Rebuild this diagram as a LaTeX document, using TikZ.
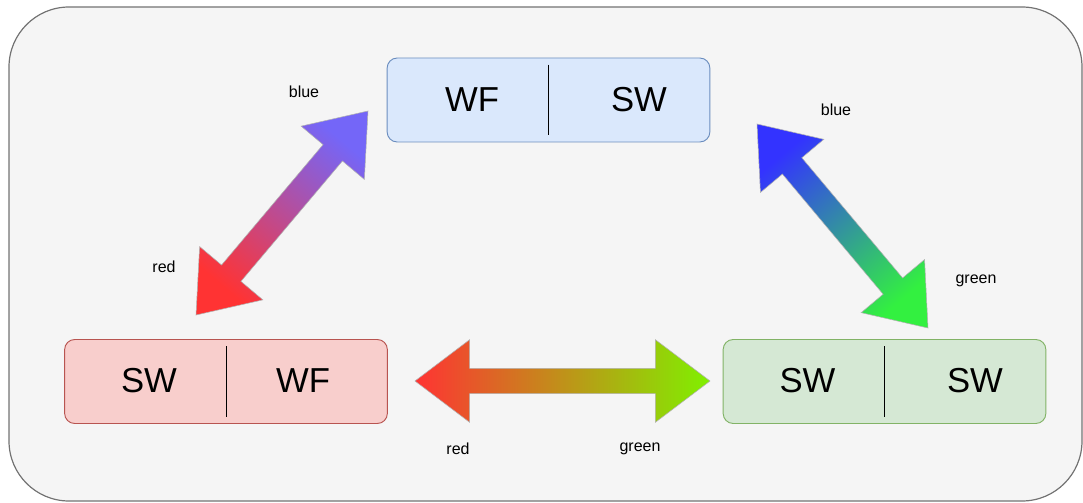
\documentclass[tikz,border=0pt]{standalone}
\usepackage{fontspec}
\setmainfont{Liberation Sans}
\usetikzlibrary{calc}

\definecolor{bluefill}{HTML}{DAE8FC}
\definecolor{blueline}{HTML}{6C8EBF}
\definecolor{redfill}{HTML}{F8CECC}
\definecolor{redline}{HTML}{B85450}
\definecolor{greenfill}{HTML}{D5E8D4}
\definecolor{greenline}{HTML}{82B366}
\definecolor{arred}{HTML}{FF3333}
\definecolor{arviolet}{HTML}{7466F8}
\definecolor{arblue}{HTML}{3333FF}
\definecolor{argreen}{HTML}{33F040}
\definecolor{arlime}{HTML}{80F000}

\tikzset{
  frame/.style={draw=black!55, fill=black!4, line width=0.9pt, rounded corners=45pt},
  halfbox/.style={rectangle, rounded corners=7.5pt, minimum width=242pt, minimum height=63pt, line width=0.7pt},
  boxtext/.style={font=\fontsize{26}{30}\selectfont},
  tag/.style={font=\fontsize{12}{14}\selectfont},
  fatarrow/.style={draw=black!30, line width=0.4pt},
}

% double headed fat arrow: from, to, from colour, to colour, shading angle
\newcommand{\dblarrow}[5]{%
  \coordinate (ha) at ($(#1)!41pt!(#2)$);
  \coordinate (hb) at ($(#2)!41pt!(#1)$);
  \draw[fatarrow, left color=#3, right color=#4, shading angle=#5]
    (#1) -- ($(ha)!31pt!90:(#1)$) -- ($(ha)!9.5pt!90:(#1)$)
    -- ($(hb)!9.5pt!-90:(#2)$) -- ($(hb)!31pt!-90:(#2)$) -- (#2)
    -- ($(hb)!31pt!90:(#2)$) -- ($(hb)!9.5pt!90:(#2)$)
    -- ($(ha)!9.5pt!-90:(#1)$) -- ($(ha)!31pt!-90:(#1)$) -- cycle;
}

\begin{document}
\begin{tikzpicture}[x=0.75pt, y=-0.75pt]
  \useasboundingbox (0,0) rectangle (1083,503);
  \draw[frame] (9,7) rectangle (1082,501);
  %
  \node[halfbox, draw=blueline, fill=bluefill] (top) at (548.5,100) {};
  \node[halfbox, draw=redline, fill=redfill] (left) at (226,381.5) {};
  \node[halfbox, draw=greenline, fill=greenfill] (right) at (884.5,381.5) {};
  \draw[line width=0.7pt] ($(top.north)+(0,7)$) -- ($(top.south)+(0,-7)$);
  \draw[line width=0.7pt] ($(left.north)+(0,7)$) -- ($(left.south)+(0,-7)$);
  \draw[line width=0.7pt] ($(right.north)+(0,7)$) -- ($(right.south)+(0,-7)$);
  \node[boxtext] (topl) at (472,100) {WF};
  \node[boxtext] (topr) at (639,100) {SW};
  \node[boxtext] (leftl) at (149,381) {SW};
  \node[boxtext] (leftr) at (303,381) {WF};
  \node[boxtext] (rightl) at (807.5,381) {SW};
  \node[boxtext] (rightr) at (975,381) {SW};
  %
  \coordinate (ldred) at (196,315);
  \coordinate (ldblue) at (368,111);
  \coordinate (rdblue) at (757,124);
  \coordinate (rdgreen) at (928,328);
  \coordinate (hzred) at (415,381);
  \coordinate (hzgreen) at (710,381);
  \dblarrow{ldred}{ldblue}{arred}{arviolet}{140}
  \dblarrow{rdblue}{rdgreen}{arblue}{argreen}{40}
  \dblarrow{hzred}{hzgreen}{arred}{arlime}{90}
  %
  \node[tag] (ldbluetag) at (304,92) {blue};
  \node[tag] (ldredtag) at (164,267) {red};
  \node[tag] (rdbluetag) at (836,110) {blue};
  \node[tag] (rdgreentag) at (976,281) {green};
  \node[tag] (hzredtag) at (458,449) {red};
  \node[tag] (hzgreentag) at (640,449) {green};
\end{tikzpicture}
\end{document}
